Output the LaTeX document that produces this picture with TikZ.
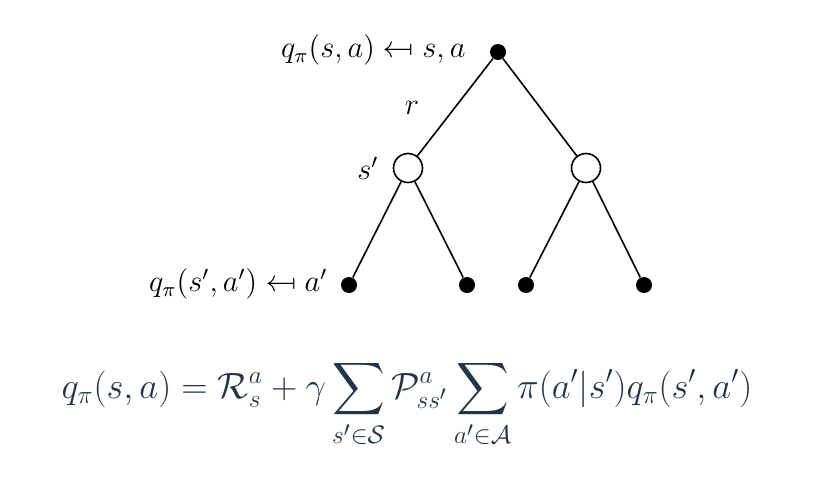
\documentclass[tikz,border=0pt]{standalone}
\usepackage{amsmath}
\usepackage{amssymb}
\usepackage{graphicx}
\usepackage{xcolor}
\definecolor{EqNavy}{HTML}{22364B}
\newcommand{\revmapsto}{\mathrel{\reflectbox{$\mapsto$}}}

\begin{document}
\begin{tikzpicture}[
  x=0.5pt, y=-0.5pt,
  every node/.style={font=\large},
  action/.style={circle, fill=black, inner sep=0pt, minimum size=8pt},
  state/.style ={circle, draw=black, line width=0.8pt, fill=white,
                 inner sep=0pt, minimum size=14.5pt},
  edge/.style={line width=0.8pt},
  lbl/.style={inner sep=0pt, scale=1.27, transform shape},
]
\useasboundingbox (0,0) rectangle (834,482);

%% -- Root (s,a) ------------------------------
\node[action] at (498, 52) (root) {};

%% -- Successor states s' ---------------------
\node[state] at (408,168) (sl) {};
\node[state] at (586,168) (sr) {};

%% -- Next actions a' -------------------------
\node[action] at (349,285) (al1) {};
\node[action] at (467,285) (al2) {};
\node[action] at (526,285) (ar1) {};
\node[action] at (644,285) (ar2) {};

%% -- Edges -----------------------------------
\draw[edge] (root) -- (sl);
\draw[edge] (root) -- (sr);
\draw[edge] (sl) -- (al1);
\draw[edge] (sl) -- (al2);
\draw[edge] (sr) -- (ar1);
\draw[edge] (sr) -- (ar2);

%% -- Labels ----------------------------------
\node[lbl, anchor=east] at (466, 50) (lroot) {$q_\pi(s,a) \revmapsto s,a$};
\node[lbl] at (412,108) (lr)  {$r$};
\node[lbl] at (368,168) (lsp) {$s'$};
\node[lbl, anchor=east] at (328,284) (lleaf) {$q_\pi(s',a') \revmapsto a'$};

%% -- Bellman expectation equation ------------
\node[lbl, scale=1.058/1.27, text=EqNavy, font=\fontsize{17.28}{21}\selectfont]
  at (407,404) (eq)
  {$\displaystyle q_\pi(s,a) = \mathcal{R}^a_s + \gamma \sum_{s'\in\mathcal{S}}
   \mathcal{P}^a_{ss'} \sum_{a'\in\mathcal{A}} \pi(a'|s') q_\pi(s',a')$};

\end{tikzpicture}
\end{document}
